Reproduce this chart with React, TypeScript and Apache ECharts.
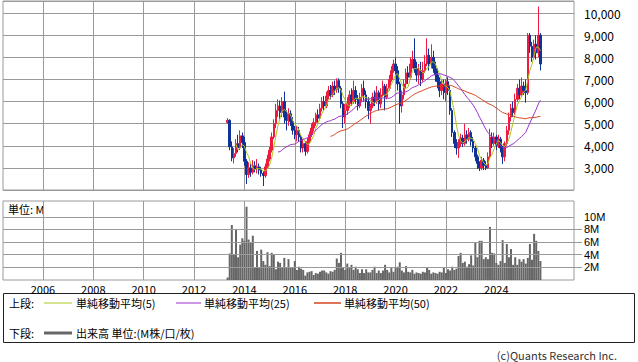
import React, { useEffect, useRef } from "react";
import * as echarts from "echarts";

// axis range (monthly categories)
const AXIS_START: [number, number] = [2004, 6];
const AXIS_END: [number, number] = [2027, 2];
const DATA_START = "2013-05";

// monthly candles: [open, close, low, high]
const candles: number[][] = [
  [5050, 5150, 5000, 5250], [5150, 3950, 3800, 5200], [3950, 3450, 3300, 4200], [3450, 3650, 3200, 3900],
  [3650, 4100, 3500, 4300], [4100, 3900, 3700, 4500], [3900, 4450, 3800, 4700], [4450, 4150, 3900, 4600],
  // 2014
  [4150, 3300, 3100, 4400], [3300, 2700, 2270, 3400], [2700, 3000, 2550, 3250], [3000, 2800, 2600, 3200],
  [2800, 3100, 2700, 3350], [3100, 2950, 2800, 3300], [2950, 3050, 2750, 3400], [3050, 2900, 2700, 3200],
  [2900, 2750, 2600, 3050], [2750, 2650, 2180, 2850], [2650, 3050, 2550, 3200], [3050, 3400, 2950, 3600],
  // 2015
  [3400, 3800, 3300, 3950], [3800, 4400, 3700, 4600], [4400, 5000, 4300, 5200], [5000, 5600, 4800, 5900],
  [5600, 5800, 5300, 6100], [5800, 5500, 5200, 6050], [5500, 6000, 5300, 6200], [6000, 5300, 5000, 6450],
  [5300, 5150, 4700, 5600], [5150, 5450, 4900, 5700], [5450, 5100, 4900, 5600], [5100, 4700, 4500, 5300],
  // 2016
  [4700, 4500, 4300, 4900], [4500, 4700, 4200, 4900], [4700, 4400, 4200, 4850], [4400, 3900, 3700, 4500],
  [3900, 4100, 3700, 4300], [4100, 3750, 3550, 4200], [3750, 4200, 3650, 4350], [4200, 4500, 4100, 4650],
  [4500, 4800, 4400, 5000], [4800, 5050, 4650, 5250], [5050, 5400, 4900, 5500], [5400, 5250, 5050, 5650],
  // 2017
  [5250, 5700, 5150, 5900], [5700, 6000, 5550, 6200], [6000, 5800, 5600, 6250], [5800, 6250, 5700, 6450],
  [6250, 6500, 6100, 6700], [6500, 6300, 6100, 6750], [6300, 6700, 6200, 6900], [6700, 6550, 6300, 6950],
  [6550, 6950, 6400, 7050], [6950, 6600, 6400, 7050], [6600, 5900, 5700, 6700], [5900, 5300, 4800, 6000],
  // 2018
  [5300, 5600, 5000, 5900], [5600, 5900, 5400, 6200], [5900, 6300, 5700, 6500], [6300, 6000, 5800, 6600],
  [6000, 6500, 5900, 6950], [6500, 6100, 5900, 6700], [6100, 5800, 5600, 6300], [5800, 6200, 5700, 6400],
  [6200, 6600, 6000, 6800], [6600, 6300, 6000, 6950], [6300, 6000, 5700, 6500], [6000, 5600, 5200, 6200],
  // 2019
  [5600, 5800, 5000, 5900], [5800, 6200, 5700, 6400], [6200, 6000, 5800, 6500], [6000, 6400, 5900, 6700],
  [6400, 5900, 5600, 6500], [5900, 6300, 5700, 6600], [6300, 6700, 6200, 6950], [6700, 6200, 5600, 6800],
  [6200, 6600, 6100, 6800], [6600, 7000, 6500, 7200], [7000, 7400, 6900, 7600], [7400, 7700, 7300, 7900],
  // 2020
  [7700, 7400, 7200, 8000], [7400, 6800, 6500, 7600], [6800, 5800, 5000, 6900], [5800, 6300, 5500, 6500],
  [6300, 6800, 6100, 7000], [6800, 7300, 6600, 7500], [7300, 7100, 6800, 7600], [7100, 7700, 7000, 8000],
  [7700, 7900, 7500, 8300], [7900, 7500, 7300, 8860], [7500, 7200, 6900, 7800], [7200, 7400, 6800, 7700],
  // 2021
  [7400, 7000, 6700, 7800], [7000, 7400, 6900, 7800], [7400, 7700, 7300, 8100], [7700, 8100, 7600, 8860],
  [8100, 7700, 7400, 8400], [7700, 8000, 7500, 8590], [8000, 7500, 7300, 8300], [7500, 7200, 6900, 7800],
  [7200, 6900, 6600, 7500], [6900, 6500, 6200, 7100], [6500, 6800, 6300, 7000], [6800, 6400, 6100, 7000],
  // 2022
  [6400, 6900, 6000, 7000], [6900, 6500, 6300, 7100], [6500, 5600, 5400, 6700], [5600, 4600, 4400, 5700],
  [4600, 4100, 3900, 4700], [4100, 3900, 3600, 4300], [3900, 4150, 3450, 4300], [4150, 4350, 3950, 4550],
  [4350, 4100, 3950, 4500], [4100, 4500, 4000, 5000], [4500, 4300, 4100, 4700], [4300, 4600, 4200, 4800],
  // 2023
  [4600, 4200, 4000, 4700], [4200, 3900, 3700, 4400], [3900, 3500, 3300, 4000], [3500, 3200, 2950, 3600],
  [3200, 3000, 2860, 3300], [3000, 3350, 2900, 3500], [3350, 3100, 2900, 3450], [3100, 3000, 2900, 3300],
  [3000, 3500, 2950, 3700], [3500, 4400, 3400, 4770], [4400, 4100, 3900, 4600], [4100, 4400, 4000, 4600],
  // 2024
  [4400, 4000, 3800, 4500], [4000, 4300, 3900, 4500], [4300, 3900, 3700, 4400], [3900, 3500, 3180, 4000],
  [3500, 4100, 3300, 4200], [4100, 4700, 4000, 4900], [4700, 5300, 4500, 5500], [5300, 5700, 5100, 5900],
  [5700, 5500, 5300, 6000], [5500, 6100, 5400, 6360], [6100, 6600, 6000, 6800], [6600, 6300, 6100, 7000],
  // 2025
  [6300, 6700, 6200, 7090], [6700, 6500, 6300, 6900], [6500, 6400, 5950, 7000], [6400, 9000, 6300, 9100],
  [9000, 8500, 8200, 9100], [8500, 8000, 7800, 8700], [8000, 8600, 7900, 8800], [8600, 8200, 7900, 9000],
  [8200, 9000, 8000, 10300], [9000, 7700, 7410, 9100],
];

// monthly volume, millions
const volumes: number[] = [
  0.4, 4.2, 8.7, 4.0, 7.9, 3.6, 5.6, 6.6,
  6.2, 11.6, 6.4, 6.0, 7.0, 2.0, 4.6, 1.9, 4.8, 3.0, 2.4, 4.4,
  2.2, 4.3, 4.1, 1.7, 2.9, 2.7, 1.9, 3.5, 2.0, 3.3, 1.9, 2.0,
  3.0, 1.6, 2.1, 1.8, 1.6, 0.7, 1.2, 1.3, 1.4, 0.8, 1.1, 1.0,
  1.3, 1.5, 1.5, 1.2, 1.0, 1.4, 1.3, 1.6, 3.4, 2.7, 4.3, 1.9,
  1.6, 2.6, 1.9, 2.4, 1.6, 2.1, 1.7, 1.1, 1.7, 1.1, 1.7, 1.2,
  1.2, 1.6, 2.1, 1.1, 1.5, 1.1, 1.5, 2.4, 1.6, 1.2, 1.9, 1.3,
  1.9, 2.1, 2.8, 1.5, 1.2, 2.2, 1.3, 1.2, 1.6, 1.0, 1.2, 1.1,
  1.0, 1.3, 1.2, 1.9, 1.6, 1.0, 1.2, 1.1, 1.0, 1.3, 1.2, 1.9,
  1.1, 1.7, 1.5, 2.1, 1.6, 1.8, 3.8, 4.3, 2.7, 2.9, 2.1, 2.5,
  3.9, 2.3, 5.9, 3.6, 6.2, 6.2, 3.3, 3.6, 3.3, 8.4, 4.3, 4.2,
  2.7, 2.4, 3.0, 6.3, 2.7, 5.7, 3.6, 4.9, 2.4, 3.6, 2.4, 3.3,
  2.9, 3.3, 2.6, 3.5, 5.7, 3.2, 7.3, 6.2, 4.6, 3.0,
];

const priceTicks = [3000, 4000, 5000, 6000, 7000, 8000, 9000, 10000];
const volumeTicks = [2, 4, 6, 8, 10];
const yearLabels = ["2006", "2008", "2010", "2012", "2014", "2016", "2018", "2020", "2022", "2024"];
const maPeriods = [5, 25, 50];
const maNames = ["単純移動平均(5)", "単純移動平均(25)", "単純移動平均(50)"];
const maColors = ["#a8c81e", "#9933cc", "#d2461e"];
const UP = "#f0193f";
const DOWN = "#0f3296";
const GRIDC = "#9a9a9a";
const FONT = "'Noto Sans CJK JP', 'Noto Sans', sans-serif";

function monthList(s: [number, number], e: [number, number]) {
  const out: string[] = [];
  let [y, m] = s;
  while (y < e[0] || (y === e[0] && m <= e[1])) {
    out.push(`${y}-${String(m).padStart(2, "0")}`);
    m++;
    if (m > 12) { m = 1; y++; }
  }
  return out;
}

function sma(vals: number[], n: number) {
  return vals.map((_, i) => {
    if (i < n - 1) return "-";
    let s = 0;
    for (let j = i - n + 1; j <= i; j++) s += vals[j];
    return Math.round((s / n) * 10) / 10;
  });
}

export default function App() {
  const ref = useRef<HTMLDivElement>(null);
  useEffect(() => {
    if (!ref.current) return;
    const chart = echarts.init(ref.current, undefined, { renderer: "svg" });
    const cats = monthList(AXIS_START, AXIS_END);
    const startIdx = cats.indexOf(DATA_START);
    const pad = (arr: any[]) => {
      const out: any[] = cats.map(() => "-");
      arr.forEach((v, i) => { out[startIdx + i] = v; });
      return out;
    };
    const closes = candles.map((c) => c[1]);
    const isYearLine = (_i: number, v: string) =>
      v.endsWith("-01") && yearLabels.includes(v.slice(0, 4));

    const xBase = {
      type: "category" as const,
      data: cats,
      boundaryGap: false,
      axisLine: { show: false },
      axisTick: { show: false },
      splitLine: { show: true, interval: isYearLine, lineStyle: { color: GRIDC, width: 1 } },
    };

    const txt = (text: string, x: number, y: number, extra: any = {}) => ({
      type: "text",
      style: { text, x, y, fill: "#000", font: `11px ${FONT}`, verticalAlign: "middle", lineHeight: 12, ...extra },
      silent: true,
    });
    const seg = (x1: number, x2: number, y: number, stroke: string, lineWidth = 1) => ({
      type: "line",
      shape: { x1, y1: y, x2, y2: y },
      style: { stroke, lineWidth },
      silent: true,
    });

    const option: any = {
      animation: false,
      textStyle: { fontFamily: FONT },
      grid: [
        { left: 3, top: 1, width: 571, height: 189, show: true, borderColor: GRIDC, borderWidth: 1 },
        { left: 3, top: 201, width: 571, height: 79, show: true, borderColor: GRIDC, borderWidth: 1 },
      ],
      xAxis: [
        { ...xBase, gridIndex: 0, axisLabel: { show: false } },
        {
          ...xBase,
          gridIndex: 1,
          axisLabel: {
            show: true,
            interval: isYearLine,
            formatter: (v: string) => v.slice(0, 4),
            color: "#000",
            fontSize: 11,
            lineHeight: 11,
            margin: 3,
          },
        },
      ],
      yAxis: [
        {
          type: "value",
          gridIndex: 0,
          position: "right",
          min: 2000,
          max: 10550,
          interval: 1000,
          axisLine: { show: false },
          axisTick: { show: false },
          splitLine: { show: true, lineStyle: { color: GRIDC, width: 1 } },
          axisLabel: {
            margin: 10,
            color: "#000",
            fontSize: 12,
            formatter: (v: number) => (priceTicks.includes(v) ? v.toLocaleString("en-US") : ""),
          },
        },
        {
          type: "value",
          gridIndex: 1,
          position: "right",
          min: 0,
          max: 12.5,
          interval: 2,
          axisLine: { show: false },
          axisTick: { show: true, length: 8, lineStyle: { color: GRIDC }, customValues: [2, 4, 6, 8] },
          splitLine: { show: false },
          axisLabel: {
            margin: 10,
            color: "#000",
            fontSize: 11,
            lineHeight: 10,
            fontFamily: "'Liberation Sans', 'DejaVu Sans', sans-serif",
            formatter: (v: number) => (volumeTicks.includes(v) ? `${v}M` : ""),
          },
        },
      ],
      series: [
        {
          type: "candlestick",
          xAxisIndex: 0,
          yAxisIndex: 0,
          data: pad(candles),
          barWidth: 2,
          itemStyle: { color: UP, color0: DOWN, borderColor: UP, borderColor0: DOWN, borderWidth: 1 },
          z: 2,
        },
        ...maPeriods.map((p, i) => ({
          type: "line",
          name: maNames[i],
          xAxisIndex: 0,
          yAxisIndex: 0,
          data: pad(sma(closes, p)),
          symbol: "none",
          lineStyle: { color: maColors[i], width: 1 },
          z: 3,
        })),
        {
          type: "line",
          xAxisIndex: 1,
          yAxisIndex: 1,
          data: [],
          z: 1,
          markLine: {
            silent: true,
            symbol: ["none", "none"],
            label: { show: false },
            lineStyle: { color: GRIDC, type: "solid", width: 1 },
            data: volumeTicks.map((v) => ({ yAxis: v })),
          },
        },
        {
          type: "bar",
          xAxisIndex: 1,
          yAxisIndex: 1,
          data: pad(volumes),
          barWidth: 2,
          itemStyle: { color: "#666666" },
          z: 2,
        },
      ],
      graphic: [
        txt("単位: M", 8, 209),
        {
          type: "rect",
          shape: { x: 3.5, y: 293.5, width: 631, height: 49 },
          style: { fill: "none", stroke: "#222", lineWidth: 1 },
          silent: true,
        },
        txt("上段:", 9, 303),
        seg(44, 72, 303, maColors[0]),
        txt(maNames[0], 76, 303),
        seg(176, 201, 303, maColors[1]),
        txt(maNames[1], 204, 303),
        seg(314, 341, 303, maColors[2], 1.5),
        txt(maNames[2], 344, 303),
        txt("下段:", 9, 333),
        seg(44, 72, 333, "#666666", 3),
        txt("出来高 単位:(M株/口/枚)", 76, 333),
        txt("(c)Quants Research Inc.", 617, 355, { align: "right", fill: "#333" }),
      ],
    };
    chart.setOption(option);
    return () => chart.dispose();
  }, []);
  return (
    <div
      ref={ref}
      style={{ position: "absolute", left: 0, top: 0, width: 638, height: 362, background: "#fff" }}
    />
  );
}
